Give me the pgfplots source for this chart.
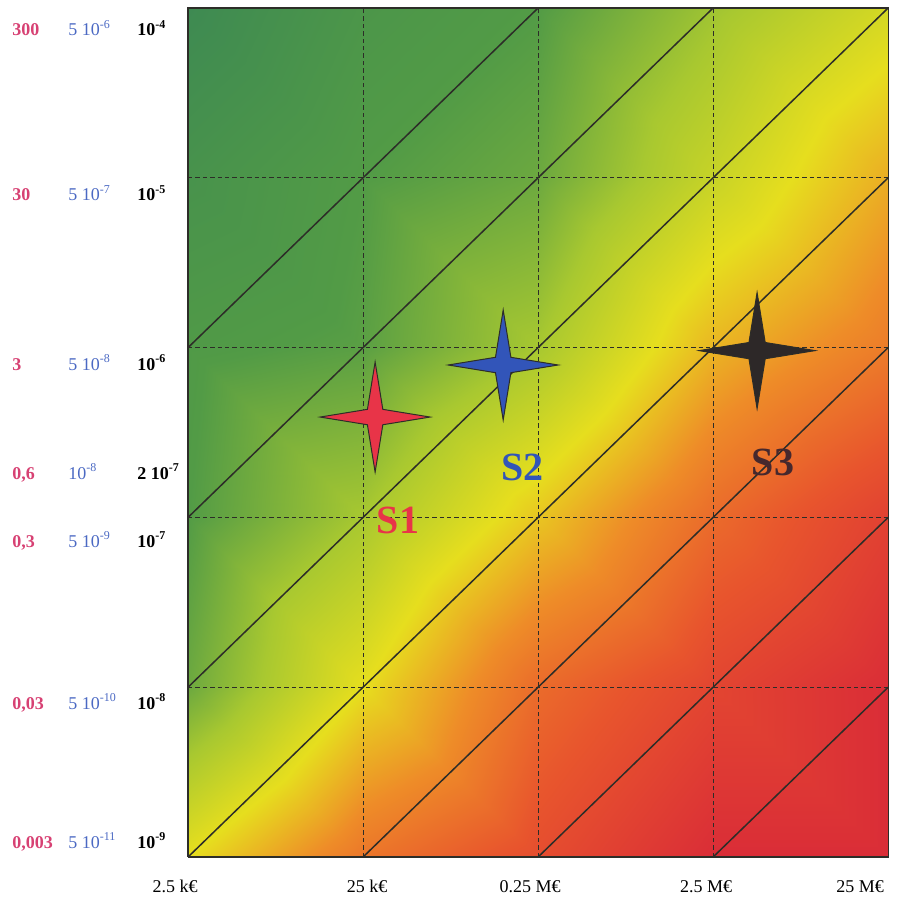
\documentclass[border=0pt]{standalone}
\usepackage{pgfplots}
\pgfplotsset{compat=1.18}
\usepackage{fontspec}
\setmainfont{Liberation Serif}
\definecolor{lblpink}{RGB}{215,65,115}
\definecolor{lblblue}{RGB}{75,105,195}
\definecolor{starred}{RGB}{232,52,72}
\definecolor{starblue}{RGB}{50,85,185}
\definecolor{starblack}{RGB}{45,40,40}
\definecolor{linecol}{RGB}{45,45,40}
\definecolor{s3lab}{RGB}{70,40,45}

\pgfdeclareplotmark{star4}{%
  \pgfpathmoveto{\pgfqpoint{\pgfplotmarksize}{0pt}}%
  \pgfpathlineto{\pgfqpoint{0.14\pgfplotmarksize}{0.14\pgfplotmarksize}}%
  \pgfpathlineto{\pgfqpoint{0pt}{\pgfplotmarksize}}%
  \pgfpathlineto{\pgfqpoint{-0.14\pgfplotmarksize}{0.14\pgfplotmarksize}}%
  \pgfpathlineto{\pgfqpoint{-\pgfplotmarksize}{0pt}}%
  \pgfpathlineto{\pgfqpoint{-0.14\pgfplotmarksize}{-0.14\pgfplotmarksize}}%
  \pgfpathlineto{\pgfqpoint{0pt}{-\pgfplotmarksize}}%
  \pgfpathlineto{\pgfqpoint{0.14\pgfplotmarksize}{-0.14\pgfplotmarksize}}%
  \pgfpathclose
  \pgfusepathqfillstroke}

\newcommand{\ylab}[4]{\raisebox{#1}[0pt][0pt]{\makebox[28pt][l]{\color{lblpink}\bfseries #2}\makebox[34.5pt][l]{\color{lblblue}#3}\bfseries #4}}

\pgfplotstableread{
x y z c
2.5e3 1e-9 0 3.0
2.5e4 1e-9 0 4.4
2.5e5 1e-9 0 5.2
2.5e6 1e-9 0 6.0
2.5e7 1e-9 0 6.0
2.5e3 1e-8 0 1.3
2.5e4 1e-8 0 3.0
2.5e5 1e-8 0 4.6
2.5e6 1e-8 0 5.4
2.5e7 1e-8 0 6.0
2.5e3 1e-7 0 1.0
2.5e4 1e-7 0 2.0
2.5e5 1e-7 0 3.3
2.5e6 1e-7 0 4.6
2.5e7 1e-7 0 5.5
2.5e3 1e-6 0 0.9
2.5e4 1e-6 0 1.1
2.5e5 1e-6 0 2.0
2.5e6 1e-6 0 3.5
2.5e7 1e-6 0 4.3
2.5e3 1e-5 0 0.5
2.5e4 1e-5 0 1.0
2.5e5 1e-5 0 1.3
2.5e6 1e-5 0 2.5
2.5e7 1e-5 0 3.6
2.5e3 1e-4 0 0.0
2.5e4 1e-4 0 0.7
2.5e5 1e-4 0 1.0
2.5e6 1e-4 0 1.9
2.5e7 1e-4 0 2.7
}\bgdata

\begin{document}
\begin{tikzpicture}
\begin{axis}[
  view={0}{90},
  scale mode=stretch to fill,
  xmode=log, ymode=log,
  xmin=2.5e3, xmax=2.5e7, ymin=1e-9, ymax=1e-4, zmin=-1, zmax=1,
  scale only axis, width=350pt, height=424.5pt,
  xtick={2.5e3,2.5e4,2.5e5,2.5e6,2.5e7},
  xticklabels={\makebox[0pt]{2.5 k€\hspace*{13pt}}, \makebox[0pt]{\hspace*{4pt}25 k€}, \makebox[0pt]{0.25 M€\hspace*{8pt}}, \makebox[0pt]{2.5 M€\hspace*{7pt}}, \makebox[0pt]{25 M€\hspace*{28pt}}},
  ytick={1e-9,1e-8,1e-7,2e-7,1e-6,1e-5,1e-4},
  yticklabels={
    \ylab{4.5pt}{0,003}{5 10\textsuperscript{-11}}{10\textsuperscript{-9}},
    \ylab{-11pt}{0,03}{5 10\textsuperscript{-10}}{10\textsuperscript{-8}},
    \ylab{-15pt}{0,3}{5 10\textsuperscript{-9}}{10\textsuperscript{-7}},
    \ylab{-6.5pt}{0,6}{10\textsuperscript{-8}}{2 10\textsuperscript{-7}},
    \ylab{-11.5pt}{3}{5 10\textsuperscript{-8}}{10\textsuperscript{-6}},
    \ylab{-11.5pt}{30}{5 10\textsuperscript{-7}}{10\textsuperscript{-5}},
    \ylab{-14pt}{300}{5 10\textsuperscript{-6}}{10\textsuperscript{-4}}},
  ztick=\empty,
  xminorticks=false, yminorticks=false,
  major tick length=0pt,
  axis line style={draw=none},
  xticklabel style={font=\fontsize{9}{10}\selectfont, yshift=-8pt},
  yticklabel style={anchor=west, inner sep=0pt, xshift=-88pt, font=\fontsize{9}{10}\selectfont},
  colormap={risk}{rgb255(0)=(62,138,82) rgb255(1)=(82,155,70) rgb255(2)=(168,200,48) rgb255(3)=(230,222,30) rgb255(4)=(238,140,40) rgb255(5)=(232,85,45) rgb255(6)=(218,45,55)},
  point meta min=0, point meta max=6,
  clip=false,
]
\addplot3[surf, shader=interp, mesh/rows=6, mesh/cols=5, point meta=explicit] table[x=x, y=y, z=z, meta=c] {\bgdata};

% grid
\addplot[linecol, line width=0.5pt, dash pattern=on 2.2pt off 1.5pt] coordinates {(2.5e4,1e-9) (2.5e4,1e-4)};
\addplot[linecol, line width=0.5pt, dash pattern=on 2.2pt off 1.5pt] coordinates {(2.5e5,1e-9) (2.5e5,1e-4)};
\addplot[linecol, line width=0.5pt, dash pattern=on 2.2pt off 1.5pt] coordinates {(2.5e6,1e-9) (2.5e6,1e-4)};
\addplot[linecol, line width=0.5pt, dash pattern=on 2.2pt off 1.5pt] coordinates {(2.5e3,1e-8) (2.5e7,1e-8)};
\addplot[linecol, line width=0.5pt, dash pattern=on 2.2pt off 1.5pt] coordinates {(2.5e3,1e-7) (2.5e7,1e-7)};
\addplot[linecol, line width=0.5pt, dash pattern=on 2.2pt off 1.5pt] coordinates {(2.5e3,1e-6) (2.5e7,1e-6)};
\addplot[linecol, line width=0.5pt, dash pattern=on 2.2pt off 1.5pt] coordinates {(2.5e3,1e-5) (2.5e7,1e-5)};

% iso-risk lines
\addplot[linecol, line width=0.75pt] coordinates {(2.5e3,1e-6) (2.5e5,1e-4)};
\addplot[linecol, line width=0.75pt] coordinates {(2.5e3,1e-7) (2.5e6,1e-4)};
\addplot[linecol, line width=0.75pt] coordinates {(2.5e3,1e-8) (2.5e7,1e-4)};
\addplot[linecol, line width=0.75pt] coordinates {(2.5e3,1e-9) (2.5e7,1e-5)};
\addplot[linecol, line width=0.75pt] coordinates {(2.5e4,1e-9) (2.5e7,1e-6)};
\addplot[linecol, line width=0.75pt] coordinates {(2.5e5,1e-9) (2.5e7,1e-7)};
\addplot[linecol, line width=0.75pt] coordinates {(2.5e6,1e-9) (2.5e7,1e-8)};

% frame
\addplot[linecol, line width=0.6pt] coordinates {(2.5e3,1e-9) (2.5e7,1e-9) (2.5e7,1e-4) (2.5e3,1e-4) (2.5e3,1e-9)};

\addplot[only marks, mark=star4, mark size=27.5pt, mark options={fill=starred, draw=linecol, line width=0.5pt}] coordinates {(2.93e4,3.9e-7)};
\addplot[only marks, mark=star4, mark size=27.5pt, mark options={fill=starblue, draw=linecol, line width=0.5pt}] coordinates {(1.58e5,7.9e-7)};
\addplot[only marks, mark=star4, mark size=29pt, mark options={fill=starblack, draw=linecol, line width=0.5pt}] coordinates {(4.46e6,9.6e-7)};

\node[text=starred, font=\fontsize{20}{20}\selectfont\bfseries] at (axis cs:3.96e4,9.66e-8,0) {S1};
\node[text=starblue, font=\fontsize{20}{20}\selectfont\bfseries] at (axis cs:2.03e5,1.98e-7,0) {S2};
\node[text=s3lab, font=\fontsize{20}{20}\selectfont\bfseries] at (axis cs:5.5e6,2.12e-7,0) {S3};

\coordinate (bbsw) at (rel axis cs:-0.2686,-0.053,0.5);
\coordinate (bbne) at (rel axis cs:1.0143,1.0094,0.5);
\end{axis}
\pgfresetboundingbox
\useasboundingbox (bbsw) rectangle (bbne);
\end{tikzpicture}
\end{document}
